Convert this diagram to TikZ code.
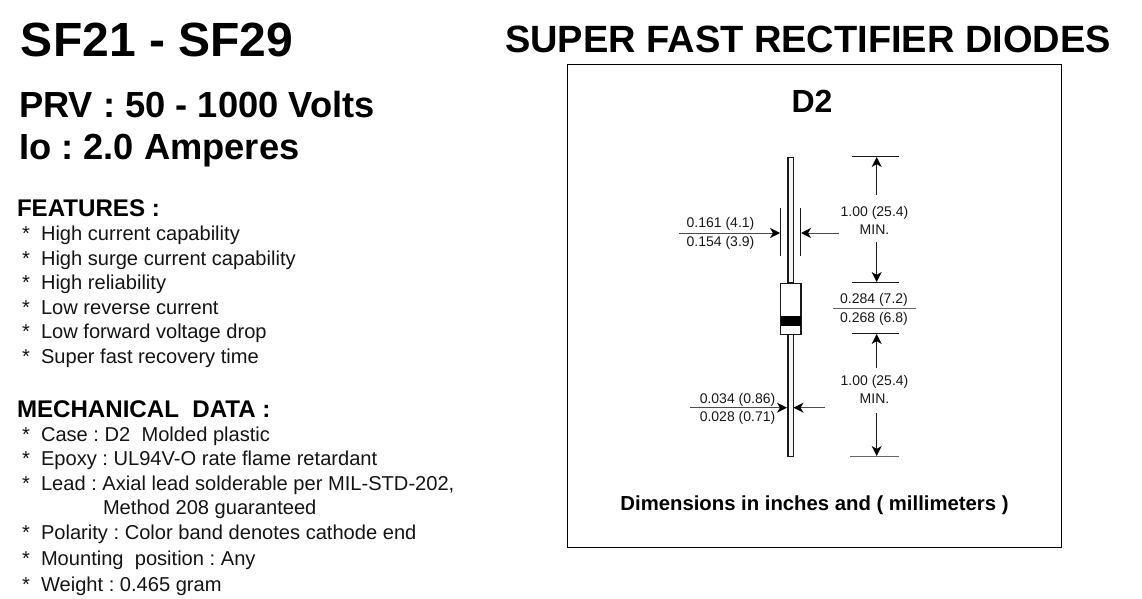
\documentclass[tikz,border=0pt]{standalone}
\usepackage{fontspec}
\setmainfont{Liberation Sans}
\usetikzlibrary{arrows.meta}
\frenchspacing
\newcommand{\pxfont}[1]{\fontsize{\dimexpr #1pt*3/4\relax}{\dimexpr #1pt*3/4\relax}\selectfont}
\tikzset{
  txt/.style={anchor=base west,inner sep=0pt,outer sep=0pt,text=black},
  head1/.style={txt,font=\pxfont{48}\bfseries},
  head2/.style={txt,font=\pxfont{36.3}\bfseries},
  head3/.style={txt,font=\pxfont{38}\bfseries},
  sect/.style={txt,font=\pxfont{24.1}\bfseries},
  body/.style={txt,font=\pxfont{20.1},text=black!92},
  dimt/.style={anchor=base,inner sep=0pt,outer sep=0pt,font=\pxfont{14},text=black!90},
  dimline/.style={draw=black!60,line width=0.9pt},
  tick/.style={draw=black!90,line width=0.75pt},
  arr/.style={draw=black!90,line width=0.75pt,-{Stealth[length=7.5pt,width=7.5pt,inset=2.2pt,color=black]}}
}
\begin{document}
\begin{tikzpicture}[x=0.75pt,y=-0.75pt]
\path[use as bounding box] (0,0) rectangle (1142,599);
% headings
\node[head1] (t1) at (21,57) {SF21 - SF29};
\node[head3] (t2) at (505,53) {SUPER FAST RECTIFIER DIODES};
\node[head2] (t3) at (19,118) {PRV : 50 - 1000 Volts};
\node[head2] (t4) at (19,160) {Io : 2.0 Amperes};
% features
\node[sect] (f0) at (17,216) {FEATURES :};
\foreach \y/\s [count=\i] in {240/High current capability,265/High surge current capability,289/High reliability,314/Low reverse current,338/Low forward voltage drop,363/Super fast recovery time}{
  \node[body] (fs\i) at (22,\y) {*};
  \node[body] (ft\i) at (41,\y) {\s};
}
\node[sect] (m0) at (17,417) {MECHANICAL\ \ DATA :};
\foreach \y/\s [count=\i] in {441/Case : D2\ \ Molded plastic,465/Epoxy : UL94V-O rate flame retardant,490/{Lead : Axial lead solderable per MIL-STD-202,},539/Polarity : Color band denotes cathode end,565/Mounting\ \ position : Any,591/Weight : 0.465 gram}{
  \node[body] (ms\i) at (22,\y) {*};
  \node[body] (mt\i) at (41,\y) {\s};
}
\node[body] (mt7) at (103,514) {Method 208 guaranteed};
% frame
\node[draw=black,line width=0.85pt,minimum width=370.4pt,minimum height=362.2pt,inner sep=0pt,anchor=north west] (frame) at (567.2,64.2) {};
\node[txt,font=\pxfont{32}\bfseries,anchor=base] (d2) at (812,113) {D2};
% diode
\node[draw=black!90,fill=black!4,line width=0.8pt,minimum width=4.2pt,minimum height=94.3pt,inner sep=0pt,anchor=north] (lead1) at (790.8,156.7) {};
\node[draw=black!90,fill=black!4,line width=0.8pt,minimum width=4.2pt,minimum height=91.5pt,inner sep=0pt,anchor=north] (lead2) at (790.8,334) {};
\node[draw=black!90,fill=white,line width=0.9pt,minimum width=15.2pt,minimum height=38.6pt,inner sep=0pt,anchor=north] (body) at (790.8,282.5) {};
\node[fill=black,minimum width=15.2pt,minimum height=7.5pt,inner sep=0pt,anchor=north] (band) at (790.8,315.7) {};
% coordinates
\coordinate (a1) at (679,233); \coordinate (a1e) at (780,233);
\coordinate (a2) at (839,233); \coordinate (a2e) at (801,233);
\coordinate (k1a) at (780.7,208); \coordinate (k1b) at (780.7,256);
\coordinate (k2a) at (800.4,208); \coordinate (k2b) at (800.4,256);
\coordinate (h1a) at (851.7,156.5); \coordinate (h1b) at (899,156.5);
\coordinate (h2a) at (851.7,282.5); \coordinate (h2b) at (899,282.5);
\coordinate (h3a) at (851.7,333.5); \coordinate (h3b) at (899,333.5);
\coordinate (h4a) at (850,456.5); \coordinate (h4b) at (899,456.5);
\coordinate (fa) at (833,308.7); \coordinate (fb) at (916,308.7);
\coordinate (v1a) at (876.7,195); \coordinate (v1b) at (876.7,157);
\coordinate (v2a) at (876.7,241.5); \coordinate (v2b) at (876.7,282);
\coordinate (v3a) at (876.7,368); \coordinate (v3b) at (876.7,334);
\coordinate (v4a) at (876.7,413); \coordinate (v4b) at (876.7,456);
\coordinate (b1) at (690,407.7); \coordinate (b1e) at (787,407.7);
\coordinate (b2) at (825,407.7); \coordinate (b2e) at (793.5,407.7);
\draw[tick] (k1a)--(k1b);
\draw[tick] (k2a)--(k2b);
\draw[tick] (h1a)--(h1b);
\draw[tick] (h2a)--(h2b);
\draw[tick] (h3a)--(h3b);
\draw[tick,draw=black!60] (h4a)--(h4b);
\draw[dimline] (fa)--(fb);
\draw[arr,draw=black!70] (a1)--(a1e);
\draw[arr,draw=black!70] (a2)--(a2e);
\draw[arr] (v1a)--(v1b);
\draw[arr] (v2a)--(v2b);
\draw[arr] (v3a)--(v3b);
\draw[arr] (v4a)--(v4b);
\draw[arr,draw=black!70] (b1)--(b1e);
\draw[arr,draw=black!70] (b2)--(b2e);
% dim texts
\node[dimt] (l1) at (720.5,228) {0.161 (4.1)};
\node[dimt] (l2) at (720.5,246) {0.154 (3.9)};
\node[dimt] (l3) at (874.5,216) {1.00 (25.4)};
\node[dimt] (l4) at (874.5,234) {MIN.};
\node[dimt] (l5) at (874,303) {0.284 (7.2)};
\node[dimt] (l6) at (874,322) {0.268 (6.8)};
\node[dimt] (l7) at (874.5,385) {1.00 (25.4)};
\node[dimt] (l8) at (874.5,403) {MIN.};
\node[dimt] (l9) at (737.5,403) {0.034 (0.86)};
\node[dimt] (l10) at (737.5,421) {0.028 (0.71)};
\node[txt,anchor=base,font=\pxfont{20.3}\bfseries] (cap) at (814.5,510) {Dimensions in inches and ( millimeters )};
\end{tikzpicture}
\end{document}
